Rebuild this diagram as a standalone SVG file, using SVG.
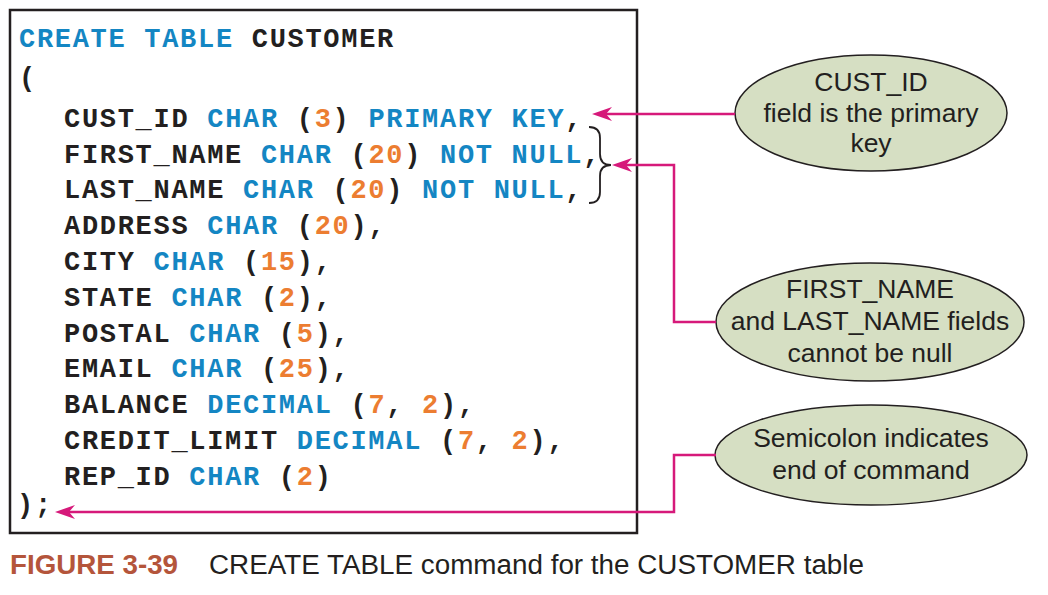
<svg xmlns="http://www.w3.org/2000/svg" width="1048" height="595" viewBox="0 0 1048 595">
<style>
.code{font-family:"Liberation Mono","DejaVu Sans Mono",monospace;font-weight:bold;font-size:27px;letter-spacing:1.7px;fill:#231f20;white-space:pre}
.k{fill:#1486c3}
.n{fill:#ec7d31}
.note{font-family:"Liberation Sans",Arial,sans-serif;font-size:26.5px;fill:#231f20;text-anchor:middle}
.bubble{fill:#d6dfc3;stroke:#231f20;stroke-width:1.5}
.conn{fill:none;stroke:#d6197a;stroke-width:2.5}
.cap{font-family:"Liberation Sans",Arial,sans-serif;font-size:27px;fill:#231f20}
.fig{font-weight:bold;fill:#b4553b}
</style>
<defs>
<marker id="ah" viewBox="0 0 20 14" refX="12" refY="7" markerWidth="20" markerHeight="14" markerUnits="userSpaceOnUse" orient="auto">
<path d="M0,0 L20,7 L0,14 L6,7 z" fill="#d6197a"/>
</marker>
</defs>
<rect width="1048" height="595" fill="#ffffff"/>

<g id="code-box">
<rect x="10" y="10" width="627" height="523" fill="#ffffff" stroke="#231f20" stroke-width="2.5"/>
<text class="code" x="19" y="47"><tspan class="k">CREATE TABLE</tspan> CUSTOMER</text>
<text class="code" x="19" y="86">(</text>
<text class="code" x="64" y="127">CUST_ID <tspan class="k">CHAR</tspan> (<tspan class="n">3</tspan>) <tspan class="k">PRIMARY KEY</tspan>,</text>
<text class="code" x="64" y="163">FIRST_NAME <tspan class="k">CHAR</tspan> (<tspan class="n">20</tspan>) <tspan class="k">NOT NULL</tspan>,</text>
<text class="code" x="64" y="198">LAST_NAME <tspan class="k">CHAR</tspan> (<tspan class="n">20</tspan>) <tspan class="k">NOT NULL</tspan>,</text>
<text class="code" x="64" y="234">ADDRESS <tspan class="k">CHAR</tspan> (<tspan class="n">20</tspan>),</text>
<text class="code" x="64" y="270">CITY <tspan class="k">CHAR</tspan> (<tspan class="n">15</tspan>),</text>
<text class="code" x="64" y="306">STATE <tspan class="k">CHAR</tspan> (<tspan class="n">2</tspan>),</text>
<text class="code" x="64" y="342">POSTAL <tspan class="k">CHAR</tspan> (<tspan class="n">5</tspan>),</text>
<text class="code" x="64" y="377">EMAIL <tspan class="k">CHAR</tspan> (<tspan class="n">25</tspan>),</text>
<text class="code" x="64" y="413">BALANCE <tspan class="k">DECIMAL</tspan> (<tspan class="n">7</tspan>, <tspan class="n">2</tspan>),</text>
<text class="code" x="64" y="449">CREDIT_LIMIT <tspan class="k">DECIMAL</tspan> (<tspan class="n">7</tspan>, <tspan class="n">2</tspan>),</text>
<text class="code" x="64" y="485">REP_ID <tspan class="k">CHAR</tspan> (<tspan class="n">2</tspan>)</text>
<text class="code" x="17" y="513">);</text>
<path d="M589,127 Q600,127 600,138 L600,154 Q600,165 611,165 Q600,165 600,176 L600,192 Q600,203 589,203" fill="none" stroke="#231f20" stroke-width="1.8"/>
</g>

<g id="note-primary-key">
<ellipse class="bubble" cx="871" cy="113" rx="136" ry="58"/>
<text class="note" x="871" y="91">CUST_ID</text>
<text class="note" x="871" y="122">field is the primary</text>
<text class="note" x="871" y="152">key</text>
</g>

<g id="note-not-null">
<ellipse class="bubble" cx="870" cy="322" rx="154" ry="59"/>
<text class="note" x="870" y="298">FIRST_NAME</text>
<text class="note" x="870" y="330">and LAST_NAME fields</text>
<text class="note" x="870" y="362">cannot be null</text>
</g>

<g id="note-semicolon">
<ellipse class="bubble" cx="871" cy="455" rx="156" ry="50"/>
<text class="note" x="871" y="447">Semicolon indicates</text>
<text class="note" x="871" y="479">end of command</text>
</g>

<g id="connectors">
<polyline class="conn" points="735,114 600,114" marker-end="url(#ah)"/>
<polyline class="conn" points="716,322 674,322 674,165 620,165" marker-end="url(#ah)"/>
<polyline class="conn" points="716,455 674,455 674,512 63,512" marker-end="url(#ah)"/>
</g>

<g id="caption">
<text class="cap fig" x="10" y="574" textLength="168" lengthAdjust="spacingAndGlyphs">FIGURE 3-39</text>
<text class="cap" x="209" y="574" textLength="655" lengthAdjust="spacingAndGlyphs">CREATE TABLE command for the CUSTOMER table</text>
</g>
</svg>
